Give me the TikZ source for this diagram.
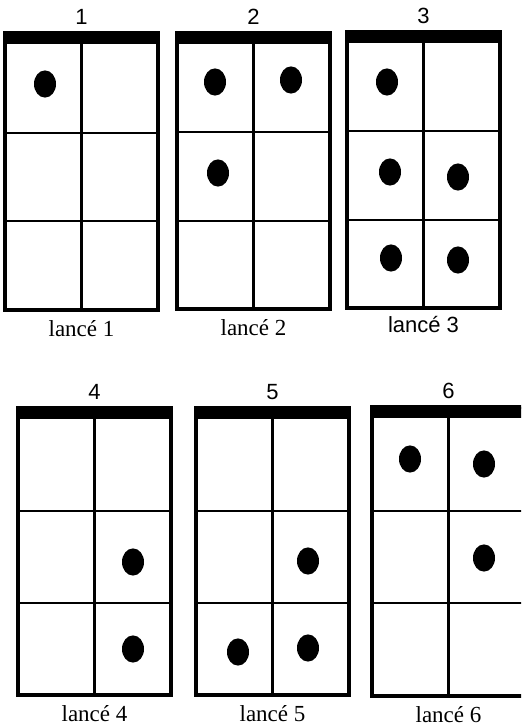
\documentclass[tikz,border=0pt]{standalone}
\usepackage{fontspec}
\setmainfont{Liberation Serif}
\setsansfont{Liberation Sans}
\usetikzlibrary{positioning}

\begin{document}
\begin{tikzpicture}[
    x=0.5pt, y=-0.5pt,
    frame/.style={line width=2.3pt},
    rule/.style={line width=1.1pt},
    bar/.style={fill=black},
    pip/.style={fill=black},
    num/.style={font=\sffamily\fontsize{11}{12}\selectfont, inner sep=0pt},
    caption/.style={font=\fontsize{11.5}{12}\selectfont, inner sep=0pt},
  ]
  \useasboundingbox (0,0) rectangle (521,727);
  \clip (0,0) rectangle (521,727);

  \foreach \n/\bx/\by/\bh in {1/5/33/277, 2/177/33/276, 3/347/32/276,
      4/18/408/287, 5/196/408/287, 6/372/407/289} {
    \coordinate (nw\n) at (\bx,\by);
    \fill[bar] (nw\n) rectangle ++(153,11);
    \draw[frame] (nw\n) rectangle ++(153,\bh);
    \draw[rule] (\bx+76.5,\by+11) -- ++(0,\bh-11);
    \draw[rule] (\bx,{\by+11+(\bh-11)/3}) -- ++(153,0);
    \draw[rule] (\bx,{\by+11+2*(\bh-11)/3}) -- ++(153,0);
    \node[num] (num\n) at (\bx+76.5,\by-16) {\n};
    \ifnum\n=3
      \node[caption, font=\sffamily\fontsize{11}{12}\selectfont]
        (lance\n) at (\bx+76.5,\by+\bh+17) {lancé \n};
    \else
      \node[caption] (lance\n) at (\bx+76.5,\by+\bh+19) {lancé \n};
    \fi
  }

  \foreach \px/\py in {45/84, 215/82, 291/80, 218/173, 387/82, 390/172,
      458/177, 391/258, 458/260, 133/562, 133/649, 308/561, 238/652,
      308/648, 410/459, 484/464, 484/558}
    \fill[pip] (\px,\py) ellipse (5.5pt and 6.8pt);
\end{tikzpicture}
\end{document}
